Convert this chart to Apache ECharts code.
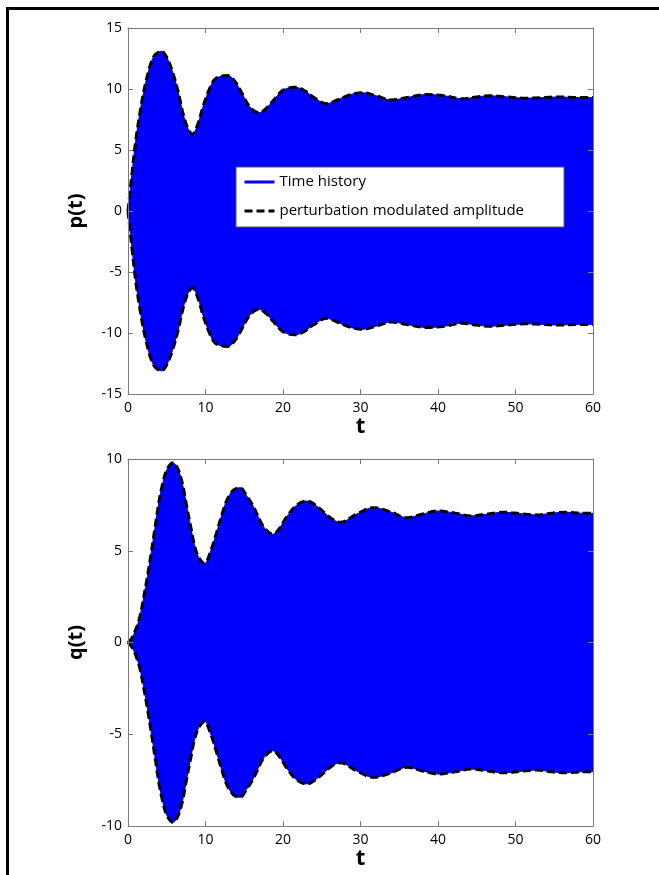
<!DOCTYPE html>
<html>
<head>
<meta charset="utf-8">
<script src="https://cdn.jsdelivr.net/npm/echarts@6/dist/echarts.min.js"></script>
<style>
  html, body { margin: 0; padding: 0; background: #fff; }
  #chart { width: 659px; height: 875px; }
</style>
</head>
<body>
<div id="chart"></div>
<script>
// p(t): modulated amplitude envelope
const pTime = [0, 0.5, 1, 1.5, 2, 2.5, 3, 3.5, 4.3, 5, 5.8, 6.5, 7.1, 7.7, 8.3, 9, 9.7, 10.5, 11.2, 12, 12.9,
  13.7, 14.5, 15.7, 16.9, 17.8, 18.8, 20, 21.5, 22.7, 23.9, 25.6, 27, 28.5, 30.2, 32, 34, 36, 38.5,
  40.8, 43.1, 45, 46.7, 49, 51.3, 53.5, 55.5, 58, 60];
const pUpper = [0, 3.0, 5.8, 7.9, 9.7, 11.1, 12.2, 12.8, 13.1, 12.6, 11.3, 9.7, 8.0, 6.8, 6.3, 7.1, 8.6, 10.0, 10.8, 11.05, 11.1,
  10.7, 9.9, 8.55, 8.05, 8.4, 9.1, 9.9, 10.15, 9.9, 9.35, 8.8, 9.1, 9.5, 9.7, 9.45, 9.1, 9.3, 9.55,
  9.45, 9.2, 9.35, 9.45, 9.35, 9.25, 9.3, 9.35, 9.3, 9.3];
const pLower = [0, -3.0, -5.8, -7.9, -9.7, -11.1, -12.2, -12.8, -13.1, -12.6, -11.3, -9.7, -8.0, -6.8, -6.3, -7.1, -8.6, -10.0, -10.8, -11.05, -11.1,
  -10.7, -9.9, -8.55, -8.05, -8.4, -9.1, -9.9, -10.15, -9.9, -9.35, -8.8, -9.1, -9.5, -9.7, -9.45, -9.1, -9.3, -9.55,
  -9.45, -9.2, -9.35, -9.45, -9.35, -9.25, -9.3, -9.35, -9.3, -9.3];

// q(t)
const qTime = [0, 0.5, 1, 1.5, 2, 2.5, 3, 3.5, 4, 4.5, 5, 5.8, 6.4, 7, 7.5, 8, 8.9, 9.9, 10.6, 11.4, 12.1, 12.8,
  13.6, 14.45, 15.3, 16.2, 17.5, 18.7, 19.5, 20.5, 21.8, 23.1, 24.6, 26.1, 27.4, 29.5, 31.7, 34, 36, 38,
  40, 42.2, 44.3, 46.4, 48.4, 50.5, 52.7, 54.7, 56.6, 58.3, 60];
const qUpper = [0, 0.25, 0.7, 1.35, 2.4, 3.6, 4.9, 6.3, 7.7, 8.7, 9.4, 9.8, 9.5, 8.7, 7.6, 6.5, 4.85, 4.3, 4.9, 5.95, 6.95, 7.8,
  8.3, 8.44, 8.0, 7.4, 6.3, 5.9, 6.2, 6.86, 7.5, 7.71, 7.35, 6.8, 6.55, 7.0, 7.35, 7.1, 6.8, 7.0,
  7.17, 7.05, 6.9, 7.0, 7.1, 7.03, 6.95, 7.05, 7.1, 7.05, 7.04];
const qLower = [0, -0.25, -0.7, -1.35, -2.4, -3.6, -4.9, -6.3, -7.7, -8.7, -9.4, -9.8, -9.5, -8.7, -7.6, -6.5, -4.85, -4.3, -4.9, -5.95, -6.95, -7.8,
  -8.3, -8.44, -8.0, -7.4, -6.3, -5.9, -6.2, -6.86, -7.5, -7.71, -7.35, -6.8, -6.55, -7.0, -7.35, -7.1, -6.8, -7.0,
  -7.17, -7.05, -6.9, -7.0, -7.1, -7.03, -6.95, -7.05, -7.1, -7.05, -7.04];

const xTicks = [0, 10, 20, 30, 40, 50, 60];
const legendNames = ['Time history', 'perturbation modulated amplitude'];

const FONT = 'Open Sans';
const BLUE = '#0000ff';
const BOX = '#7a7a7a';

const pairs = (ts, vs) => ts.map((t, i) => [t, vs[i]]);

const chart = echarts.init(document.getElementById('chart'));

const mainX = (gridIndex, name) => ({
    type: 'value', gridIndex, min: xTicks[0], max: xTicks[xTicks.length - 1], interval: 10, z: 10,
    name, nameLocation: 'middle', nameGap: 21,
    nameTextStyle: { fontFamily: FONT, fontSize: 22, fontWeight: 'bold', color: '#000' },
    axisLine: { onZero: false, lineStyle: { color: BOX } },
    axisTick: { inside: true, length: 5, lineStyle: { color: BOX } },
    axisLabel: { fontFamily: FONT, fontSize: 14, color: '#000', margin: 7 },
    splitLine: { show: false }
});
const mirrorX = (gridIndex) => ({
    type: 'value', gridIndex, position: 'top', min: 0, max: 60, interval: 10, z: 10,
    axisLine: { onZero: false, lineStyle: { color: BOX } },
    axisTick: { inside: true, length: 5, lineStyle: { color: BOX } },
    axisLabel: { show: false }, splitLine: { show: false }
});
const mainY = (gridIndex, lim, name) => ({
    type: 'value', gridIndex, min: -lim, max: lim, interval: 5, z: 10,
    name, nameLocation: 'middle', nameGap: 42, nameRotate: 90,
    nameTextStyle: { fontFamily: FONT, fontSize: 20, fontWeight: 'bold', color: '#000' },
    axisLine: { show: true, onZero: false, lineStyle: { color: BOX } },
    axisTick: { show: true, inside: true, length: 5, lineStyle: { color: BOX } },
    axisLabel: { fontFamily: FONT, fontSize: 14, color: '#000', margin: 6 },
    splitLine: { show: false }
});
const mirrorY = (gridIndex, lim) => ({
    type: 'value', gridIndex, position: 'right', min: -lim, max: lim, interval: 5, z: 10,
    axisLine: { show: true, onZero: false, lineStyle: { color: BOX } },
    axisTick: { show: true, inside: true, length: 5, lineStyle: { color: BOX } },
    axisLabel: { show: false }, splitLine: { show: false }
});

// the two halves overlap slightly around zero so no seam shows
const fillSeries = (data, xi, yi, origin) => ({
    name: legendNames[0], type: 'line', xAxisIndex: xi, yAxisIndex: yi,
    data, smooth: 0.35, showSymbol: false, symbol: 'none',
    lineStyle: { color: BLUE, width: 1 },
    itemStyle: { color: BLUE },
    areaStyle: { color: BLUE, opacity: 1, origin },
    z: 2
});
const envSeries = (data, xi, yi) => ({
    name: legendNames[1], type: 'line', xAxisIndex: xi, yAxisIndex: yi,
    data, smooth: 0.35, showSymbol: false, symbol: 'none',
    lineStyle: { color: '#000', width: 3, type: [8, 4] },
    itemStyle: { color: '#000' },
    z: 3
});

chart.setOption({
    animation: false,
    backgroundColor: '#fff',
    grid: [
        { left: 128, top: 28, width: 465, height: 366 },
        { left: 128, top: 459, width: 465, height: 367 }
    ],
    xAxis: [mainX(0, 't'), mirrorX(0), mainX(1, 't'), mirrorX(1)],
    yAxis: [mainY(0, 15, 'p(t)'), mirrorY(0, 15), mainY(1, 10, 'q(t)'), mirrorY(1, 10)],
    legend: {
        left: 236, top: 167, orient: 'vertical', z: 20,
        backgroundColor: '#fff', borderColor: '#555', borderWidth: 1,
        padding: [6, 40, 7, 7],
        itemWidth: 30, itemHeight: 18, itemGap: 11,
        textStyle: { fontFamily: FONT, fontSize: 15, color: '#000', lineHeight: 18 },
        itemStyle: { opacity: 0 },
        data: [
            { name: legendNames[0], itemStyle: { opacity: 0 }, lineStyle: { width: 3, color: BLUE } },
            { name: legendNames[1], itemStyle: { opacity: 0 }, lineStyle: { width: 3, color: '#000', type: [8, 4] } }
        ]
    },
    graphic: [{
        type: 'polyline',
        shape: { points: [[7.5, 875], [7.5, 8.5], [659, 8.5]] },
        style: { stroke: '#000', lineWidth: 3, fill: null },
        silent: true
    }],
    series: [
        fillSeries(pairs(pTime, pUpper), 0, 0, -0.12),
        fillSeries(pairs(pTime, pLower), 0, 0, 0.12),
        envSeries(pairs(pTime, pUpper), 0, 0),
        envSeries(pairs(pTime, pLower), 0, 0),
        fillSeries(pairs(qTime, qUpper), 2, 2, -0.08),
        fillSeries(pairs(qTime, qLower), 2, 2, 0.08),
        envSeries(pairs(qTime, qUpper), 2, 2),
        envSeries(pairs(qTime, qLower), 2, 2)
    ]
});
</script>
</body>
</html>
